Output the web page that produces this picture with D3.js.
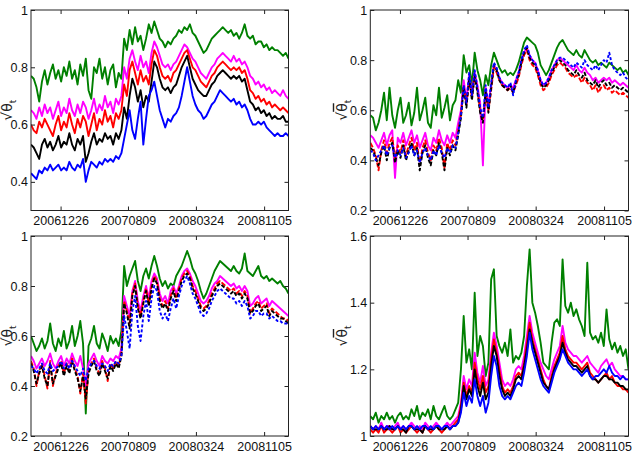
<!DOCTYPE html>
<html><head><meta charset="utf-8">
<script src="https://cdn.jsdelivr.net/npm/d3@7"></script>
<style>
body{margin:0;background:#fff;}
svg{display:block;font-family:"Liberation Sans",Arial,sans-serif;}
</style></head><body>
<svg id="chart" width="633" height="457"></svg>
<script>
const tickIdx = [10.8, 35.4, 60.2, 85.1];
const tickLabels = ["20061226","20070809","20080324","20081105"];
const seriesNames = ["green","magenta","red","black","blue"];
const seriesColors = ["#008000","#ff00ff","#ff0000","#000000","#0000ff"];

// Panel 1 (top-left)
const g1 = [0.77,0.76,0.73,0.68,0.75,0.79,0.74,0.78,0.81,0.76,
0.79,0.75,0.80,0.77,0.82,0.76,0.79,0.74,0.81,0.77,
0.83,0.72,0.69,0.80,0.78,0.83,0.76,0.80,0.74,0.79,
0.81,0.73,0.78,0.76,0.90,0.86,0.93,0.88,0.94,0.89,
0.91,0.86,0.90,0.95,0.92,0.96,0.93,0.90,0.89,0.87,
0.89,0.88,0.90,0.91,0.93,0.92,0.94,0.93,0.95,0.92,
0.91,0.89,0.87,0.85,0.86,0.88,0.90,0.91,0.92,0.93,
0.94,0.93,0.92,0.93,0.91,0.92,0.90,0.92,0.95,0.91,
0.90,0.91,0.88,0.89,0.89,0.87,0.88,0.86,0.87,0.86,
0.86,0.85,0.84,0.85,0.83];
const m1 = [0.65,0.64,0.62,0.66,0.63,0.67,0.64,0.66,0.62,0.65,
0.68,0.63,0.66,0.64,0.69,0.65,0.63,0.67,0.64,0.68,
0.66,0.62,0.65,0.69,0.64,0.67,0.65,0.70,0.66,0.68,
0.64,0.69,0.67,0.70,0.80,0.76,0.83,0.86,0.82,0.79,
0.84,0.80,0.82,0.78,0.85,0.89,0.87,0.84,0.81,0.80,
0.81,0.79,0.81,0.82,0.84,0.86,0.88,0.87,0.85,0.83,
0.82,0.80,0.78,0.77,0.76,0.78,0.80,0.81,0.83,0.84,
0.85,0.84,0.83,0.82,0.84,0.82,0.83,0.81,0.82,0.80,
0.77,0.76,0.74,0.75,0.73,0.74,0.72,0.73,0.71,0.72,
0.71,0.70,0.72,0.70,0.69];
const r1 = [0.60,0.58,0.57,0.61,0.59,0.62,0.60,0.58,0.56,0.60,
0.63,0.58,0.61,0.59,0.64,0.60,0.57,0.62,0.59,0.63,
0.61,0.56,0.60,0.64,0.58,0.62,0.60,0.65,0.61,0.63,
0.59,0.64,0.62,0.65,0.74,0.70,0.79,0.82,0.78,0.74,
0.79,0.75,0.77,0.74,0.81,0.86,0.84,0.80,0.77,0.76,
0.77,0.75,0.78,0.79,0.81,0.83,0.85,0.86,0.83,0.80,
0.79,0.77,0.75,0.74,0.73,0.75,0.77,0.78,0.80,0.81,
0.82,0.81,0.80,0.79,0.80,0.79,0.80,0.78,0.79,0.76,
0.72,0.71,0.69,0.70,0.68,0.69,0.67,0.68,0.66,0.67,
0.66,0.65,0.66,0.65,0.64];
const k1 = [0.53,0.52,0.50,0.48,0.53,0.55,0.52,0.54,0.51,0.53,
0.56,0.52,0.54,0.53,0.57,0.53,0.51,0.55,0.53,0.56,
0.47,0.50,0.54,0.57,0.53,0.55,0.54,0.57,0.55,0.56,
0.53,0.57,0.55,0.58,0.66,0.62,0.70,0.76,0.73,0.68,
0.72,0.66,0.70,0.68,0.75,0.82,0.80,0.76,0.73,0.72,
0.73,0.71,0.73,0.74,0.77,0.80,0.82,0.84,0.80,0.76,
0.74,0.72,0.71,0.70,0.70,0.72,0.74,0.75,0.77,0.78,
0.79,0.78,0.77,0.76,0.77,0.76,0.77,0.75,0.76,0.72,
0.68,0.67,0.65,0.66,0.64,0.65,0.63,0.64,0.62,0.63,
0.62,0.62,0.63,0.61,0.61];
const b1 = [0.43,0.42,0.41,0.44,0.43,0.45,0.44,0.46,0.44,0.45,
0.46,0.44,0.45,0.44,0.47,0.45,0.44,0.46,0.45,0.48,
0.40,0.44,0.47,0.46,0.45,0.47,0.46,0.48,0.47,0.48,
0.47,0.49,0.48,0.50,0.55,0.60,0.65,0.58,0.55,0.62,
0.68,0.53,0.62,0.70,0.72,0.75,0.70,0.65,0.62,0.59,
0.62,0.61,0.63,0.64,0.66,0.70,0.75,0.80,0.75,0.70,
0.67,0.65,0.64,0.62,0.63,0.65,0.67,0.68,0.70,0.72,
0.71,0.70,0.69,0.68,0.69,0.67,0.68,0.66,0.67,0.65,
0.62,0.60,0.60,0.61,0.60,0.61,0.59,0.58,0.57,0.56,
0.57,0.56,0.56,0.57,0.56];

// Panel 2 (top-right)
const g2 = [0.58,0.57,0.52,0.55,0.60,0.67,0.56,0.69,0.58,0.53,
0.60,0.65,0.55,0.58,0.63,0.54,0.59,0.69,0.56,0.60,
0.65,0.55,0.53,0.62,0.58,0.69,0.57,0.61,0.66,0.56,
0.62,0.64,0.72,0.67,0.82,0.75,0.78,0.70,0.83,0.76,
0.72,0.66,0.74,0.70,0.78,0.83,0.80,0.77,0.75,0.76,
0.74,0.75,0.74,0.76,0.79,0.83,0.87,0.89,0.88,0.87,
0.86,0.83,0.78,0.76,0.74,0.76,0.79,0.82,0.85,0.87,
0.88,0.86,0.84,0.83,0.82,0.84,0.82,0.81,0.84,0.82,
0.80,0.79,0.80,0.78,0.79,0.78,0.77,0.79,0.78,0.77,
0.76,0.77,0.75,0.76,0.74];
const m2 = [0.50,0.49,0.47,0.45,0.48,0.51,0.46,0.50,0.52,0.33,
0.49,0.47,0.51,0.46,0.49,0.52,0.47,0.50,0.45,0.48,
0.51,0.46,0.44,0.49,0.47,0.52,0.48,0.46,0.50,0.47,
0.51,0.49,0.55,0.60,0.72,0.64,0.74,0.67,0.75,0.70,
0.63,0.38,0.69,0.62,0.70,0.78,0.76,0.73,0.71,0.70,
0.69,0.70,0.69,0.72,0.75,0.80,0.83,0.85,0.82,0.80,
0.79,0.76,0.72,0.70,0.71,0.73,0.76,0.78,0.80,0.81,
0.80,0.79,0.78,0.77,0.76,0.78,0.76,0.75,0.77,0.75,
0.74,0.72,0.73,0.71,0.72,0.73,0.72,0.73,0.71,0.72,
0.71,0.70,0.71,0.70,0.69];
const r2 = [0.47,0.45,0.42,0.36,0.44,0.48,0.43,0.47,0.49,0.41,
0.46,0.43,0.48,0.42,0.46,0.49,0.44,0.47,0.38,0.45,
0.48,0.43,0.40,0.46,0.44,0.49,0.45,0.37,0.47,0.44,
0.48,0.46,0.52,0.58,0.70,0.62,0.72,0.65,0.74,0.68,
0.60,0.56,0.67,0.60,0.68,0.77,0.75,0.72,0.70,0.69,
0.68,0.69,0.67,0.70,0.73,0.78,0.82,0.84,0.80,0.78,
0.77,0.74,0.70,0.68,0.69,0.71,0.74,0.76,0.78,0.79,
0.78,0.77,0.75,0.74,0.73,0.74,0.73,0.71,0.73,0.71,
0.70,0.68,0.70,0.67,0.69,0.70,0.68,0.69,0.67,0.68,
0.67,0.66,0.67,0.66,0.65];
const k2 = [0.45,0.44,0.41,0.38,0.43,0.46,0.40,0.45,0.47,0.39,
0.44,0.41,0.46,0.40,0.44,0.47,0.42,0.45,0.36,0.43,
0.46,0.41,0.38,0.44,0.42,0.47,0.43,0.36,0.45,0.42,
0.46,0.44,0.50,0.57,0.69,0.61,0.73,0.64,0.74,0.67,
0.59,0.55,0.68,0.59,0.69,0.78,0.76,0.72,0.70,0.69,
0.68,0.70,0.67,0.71,0.74,0.79,0.83,0.85,0.81,0.79,
0.78,0.75,0.71,0.69,0.70,0.72,0.75,0.77,0.79,0.80,
0.79,0.78,0.76,0.75,0.74,0.76,0.74,0.73,0.75,0.72,
0.71,0.70,0.72,0.69,0.71,0.72,0.70,0.71,0.69,0.70,
0.69,0.68,0.69,0.68,0.67];
const b2 = [0.44,0.43,0.40,0.42,0.44,0.46,0.42,0.45,0.46,0.41,
0.44,0.42,0.45,0.41,0.43,0.46,0.42,0.44,0.39,0.43,
0.45,0.42,0.40,0.44,0.42,0.46,0.43,0.41,0.45,0.43,
0.46,0.45,0.51,0.58,0.70,0.63,0.75,0.66,0.76,0.69,
0.61,0.57,0.70,0.61,0.71,0.79,0.77,0.73,0.71,0.70,
0.69,0.71,0.66,0.72,0.75,0.80,0.84,0.86,0.82,0.80,
0.79,0.76,0.72,0.70,0.71,0.73,0.76,0.78,0.80,0.81,
0.81,0.80,0.79,0.78,0.77,0.79,0.78,0.77,0.80,0.78,
0.77,0.76,0.78,0.76,0.78,0.80,0.79,0.83,0.78,0.76,
0.75,0.74,0.75,0.73,0.72];

// Panel 3 (bottom-left)
const g3 = [0.60,0.57,0.54,0.56,0.59,0.55,0.58,0.65,0.57,0.54,
0.59,0.56,0.62,0.55,0.58,0.64,0.56,0.60,0.66,0.57,
0.29,0.56,0.59,0.64,0.57,0.55,0.61,0.58,0.54,0.60,
0.57,0.59,0.56,0.62,0.88,0.80,0.84,0.87,0.90,0.82,
0.78,0.84,0.87,0.83,0.88,0.92,0.88,0.83,0.80,0.82,
0.79,0.81,0.80,0.84,0.86,0.88,0.91,0.94,0.91,0.87,
0.85,0.82,0.78,0.75,0.77,0.80,0.83,0.86,0.88,0.90,
0.89,0.88,0.87,0.86,0.88,0.86,0.85,0.87,0.93,0.86,
0.85,0.84,0.86,0.88,0.84,0.83,0.84,0.82,0.83,0.82,
0.81,0.82,0.80,0.79,0.77];
const m3 = [0.52,0.50,0.47,0.49,0.51,0.48,0.50,0.53,0.49,0.47,
0.50,0.52,0.48,0.51,0.49,0.53,0.50,0.48,0.52,0.47,
0.40,0.49,0.51,0.53,0.50,0.48,0.52,0.50,0.49,0.51,
0.50,0.52,0.51,0.55,0.76,0.72,0.68,0.78,0.82,0.74,
0.70,0.76,0.80,0.75,0.82,0.85,0.83,0.77,0.74,0.76,
0.73,0.78,0.80,0.77,0.80,0.84,0.86,0.87,0.85,0.82,
0.80,0.77,0.74,0.73,0.74,0.76,0.79,0.81,0.82,0.84,
0.83,0.82,0.81,0.80,0.81,0.79,0.80,0.78,0.80,0.78,
0.72,0.73,0.75,0.76,0.73,0.74,0.75,0.72,0.74,0.73,
0.72,0.71,0.70,0.69,0.68];
const r3 = [0.50,0.47,0.40,0.46,0.49,0.44,0.39,0.50,0.40,0.45,
0.48,0.50,0.45,0.49,0.46,0.51,0.47,0.44,0.37,0.45,
0.33,0.46,0.49,0.51,0.47,0.45,0.50,0.47,0.42,0.49,
0.47,0.50,0.48,0.53,0.74,0.70,0.65,0.77,0.81,0.72,
0.68,0.74,0.79,0.73,0.80,0.84,0.82,0.75,0.72,0.74,
0.71,0.76,0.79,0.75,0.79,0.83,0.85,0.86,0.84,0.80,
0.78,0.75,0.72,0.71,0.72,0.74,0.77,0.79,0.81,0.82,
0.81,0.80,0.79,0.78,0.79,0.77,0.78,0.76,0.78,0.76,
0.69,0.71,0.73,0.74,0.71,0.72,0.73,0.69,0.71,0.70,
0.69,0.68,0.67,0.67,0.66];
const k3 = [0.49,0.46,0.41,0.45,0.48,0.43,0.40,0.49,0.41,0.44,
0.47,0.49,0.44,0.48,0.45,0.50,0.46,0.43,0.38,0.44,
0.35,0.45,0.48,0.50,0.46,0.44,0.49,0.46,0.43,0.48,
0.46,0.49,0.47,0.52,0.73,0.69,0.63,0.76,0.80,0.71,
0.67,0.73,0.78,0.72,0.79,0.83,0.81,0.74,0.71,0.73,
0.70,0.75,0.78,0.74,0.78,0.82,0.84,0.85,0.83,0.79,
0.77,0.74,0.71,0.70,0.71,0.73,0.76,0.78,0.80,0.81,
0.80,0.79,0.78,0.77,0.78,0.76,0.77,0.75,0.77,0.75,
0.69,0.70,0.72,0.73,0.70,0.71,0.72,0.68,0.70,0.69,
0.68,0.67,0.67,0.66,0.65];
const b3 = [0.48,0.47,0.45,0.47,0.49,0.46,0.45,0.49,0.46,0.47,
0.48,0.50,0.47,0.49,0.47,0.50,0.48,0.46,0.44,0.47,
0.42,0.47,0.49,0.50,0.48,0.47,0.49,0.48,0.46,0.49,
0.48,0.50,0.49,0.52,0.68,0.62,0.55,0.70,0.76,0.64,
0.58,0.68,0.74,0.66,0.75,0.80,0.78,0.70,0.67,0.69,
0.66,0.71,0.75,0.71,0.76,0.80,0.82,0.84,0.81,0.77,
0.75,0.72,0.69,0.68,0.69,0.71,0.74,0.76,0.78,0.79,
0.78,0.77,0.76,0.75,0.75,0.73,0.74,0.72,0.74,0.72,
0.67,0.68,0.70,0.70,0.68,0.69,0.69,0.67,0.68,0.67,
0.66,0.66,0.65,0.65,0.65];

// Panel 4 (bottom-right)
const g4 = [1.06,1.05,1.07,1.04,1.06,1.05,1.07,1.05,1.06,1.04,
1.06,1.07,1.05,1.06,1.05,1.08,1.06,1.09,1.05,1.07,
1.06,1.08,1.05,1.09,1.06,1.05,1.07,1.09,1.06,1.05,
1.06,1.08,1.10,1.20,1.36,1.22,1.26,1.20,1.43,1.24,
1.30,1.27,1.18,1.22,1.47,1.50,1.30,1.27,1.25,1.28,
1.24,1.32,1.22,1.24,1.23,1.25,1.30,1.45,1.56,1.40,
1.37,1.33,1.28,1.22,1.21,1.20,1.28,1.34,1.35,1.33,
1.53,1.39,1.37,1.40,1.36,1.38,1.35,1.33,1.30,1.52,
1.31,1.29,1.30,1.28,1.31,1.27,1.38,1.29,1.26,1.28,
1.25,1.27,1.24,1.26,1.20];
const m4 = [1.03,1.02,1.03,1.02,1.04,1.02,1.03,1.03,1.02,1.03,
1.04,1.02,1.03,1.02,1.03,1.04,1.03,1.02,1.03,1.02,
1.04,1.03,1.02,1.03,1.04,1.03,1.02,1.03,1.04,1.03,
1.04,1.05,1.06,1.10,1.18,1.14,1.17,1.15,1.25,1.19,
1.16,1.21,1.15,1.17,1.25,1.31,1.27,1.22,1.17,1.15,
1.16,1.15,1.17,1.20,1.21,1.20,1.24,1.30,1.36,1.31,
1.28,1.25,1.22,1.20,1.18,1.17,1.20,1.23,1.25,1.27,
1.33,1.28,1.26,1.25,1.24,1.24,1.23,1.22,1.23,1.24,
1.22,1.21,1.20,1.19,1.21,1.22,1.23,1.21,1.22,1.20,
1.19,1.18,1.18,1.17,1.17];
const r4 = [1.02,1.01,1.02,1.01,1.03,1.01,1.02,1.02,1.01,1.02,
1.03,1.01,1.02,1.01,1.02,1.03,1.02,1.01,1.02,1.01,
1.03,1.02,1.01,1.02,1.03,1.02,1.01,1.02,1.03,1.02,
1.03,1.04,1.05,1.09,1.16,1.12,1.15,1.13,1.22,1.17,
1.14,1.18,1.13,1.15,1.23,1.29,1.25,1.20,1.15,1.13,
1.14,1.13,1.15,1.18,1.19,1.18,1.22,1.28,1.34,1.29,
1.26,1.23,1.20,1.17,1.15,1.14,1.18,1.21,1.23,1.25,
1.30,1.26,1.24,1.23,1.22,1.22,1.21,1.20,1.21,1.22,
1.19,1.18,1.17,1.16,1.17,1.18,1.19,1.17,1.18,1.16,
1.15,1.15,1.14,1.14,1.13];
const k4 = [1.03,1.02,1.02,1.02,1.03,1.02,1.02,1.03,1.02,1.02,
1.03,1.02,1.02,1.01,1.03,1.03,1.02,1.02,1.02,1.01,
1.03,1.02,1.02,1.02,1.03,1.02,1.02,1.02,1.03,1.02,
1.03,1.03,1.04,1.08,1.15,1.11,1.14,1.12,1.20,1.15,
1.12,1.16,1.11,1.13,1.21,1.27,1.24,1.18,1.14,1.12,
1.13,1.12,1.14,1.17,1.18,1.17,1.21,1.26,1.32,1.28,
1.25,1.22,1.19,1.16,1.15,1.14,1.17,1.20,1.22,1.24,
1.28,1.25,1.23,1.22,1.21,1.21,1.20,1.19,1.20,1.21,
1.18,1.17,1.17,1.16,1.17,1.18,1.18,1.17,1.17,1.16,
1.16,1.15,1.15,1.14,1.14];
const b4 = [1.03,1.02,1.03,1.02,1.03,1.02,1.03,1.02,1.03,1.02,
1.03,1.02,1.03,1.02,1.03,1.03,1.02,1.03,1.02,1.03,
1.03,1.02,1.03,1.02,1.03,1.03,1.02,1.03,1.03,1.02,
1.03,1.03,1.04,1.07,1.13,1.09,1.12,1.10,1.17,1.12,
1.09,1.12,1.07,1.10,1.18,1.24,1.21,1.15,1.12,1.11,
1.12,1.11,1.13,1.15,1.16,1.15,1.19,1.24,1.31,1.26,
1.23,1.20,1.17,1.15,1.14,1.13,1.16,1.19,1.21,1.23,
1.26,1.24,1.22,1.21,1.20,1.20,1.19,1.18,1.19,1.20,
1.18,1.17,1.18,1.18,1.19,1.20,1.19,1.21,1.19,1.18,
1.18,1.17,1.18,1.17,1.17];

const yDomains = [[0.3,1],[0.2,1],[0.2,1],[1,1.6]];
const yTickVals = [[0.4,0.6,0.8,1],[0.2,0.4,0.6,0.8,1],[0.2,0.4,0.6,0.8,1],[1,1.2,1.4,1.6]];

const panels = [
  {series:[g1,m1,r1,k1,b1], left:31, top:10, right:288.5, bottom:210.5, dashed:false},
  {series:[g2,m2,r2,k2,b2], left:370.3, top:10, right:628.5, bottom:210.5, dashed:true},
  {series:[g3,m3,r3,k3,b3], left:31, top:236, right:288.5, bottom:436, dashed:true},
  {series:[g4,m4,r4,k4,b4], left:370.3, top:236, right:628.5, bottom:436, dashed:false}
];
const dashPatterns = [null, null, "5,2", "4,2", "3,2"];

const svg = d3.select("#chart");
const fmt = d => String(+d.toFixed(1));

panels.forEach((p, pi) => {
  const w = p.right - p.left, h = p.bottom - p.top;
  const N = p.series[0].length;
  const x = d3.scaleLinear().domain([0, N - 1]).range([0, w]);
  const y = d3.scaleLinear().domain(yDomains[pi]).range([h, 0]);
  const g = svg.append("g").attr("transform", `translate(${p.left},${p.top})`);
  const clipId = "clip" + pi;
  g.append("clipPath").attr("id", clipId).append("rect")
    .attr("x", 0).attr("y", 0).attr("width", w).attr("height", h);

  const line = d3.line().x((d, i) => x(i)).y(d => y(d));
  const lg = g.append("g").attr("clip-path", `url(#${clipId})`);
  p.series.forEach((s, si) => {
    const path = lg.append("path").datum(s)
      .attr("fill", "none")
      .attr("stroke", seriesColors[si])
      .attr("stroke-width", 1.9)
      .attr("stroke-linejoin", "round")
      .attr("d", line);
    if (p.dashed && dashPatterns[si]) path.attr("stroke-dasharray", dashPatterns[si]);
  });

  const styleAxis = sel => {
    sel.select(".domain").remove();
    sel.selectAll(".tick line").attr("stroke", "#222");
    sel.selectAll("text").attr("fill", "#111").style("font-size", "12.5px")
      .style("font-family", '"Liberation Sans", Arial, sans-serif');
  };

  g.append("g").attr("transform", `translate(0,${h})`)
    .call(d3.axisBottom(x).tickValues(tickIdx).tickFormat((d, i) => tickLabels[i])
      .tickSizeInner(-4).tickSizeOuter(0).tickPadding(6))
    .call(styleAxis);
  g.append("g")
    .call(d3.axisTop(x).tickValues(tickIdx).tickFormat("").tickSizeInner(-4).tickSizeOuter(0))
    .call(styleAxis);
  g.append("g")
    .call(d3.axisLeft(y).tickValues(yTickVals[pi]).tickFormat(fmt)
      .tickSizeInner(-4).tickSizeOuter(0).tickPadding(3))
    .call(styleAxis);
  g.append("g").attr("transform", `translate(${w},0)`)
    .call(d3.axisRight(y).tickValues(yTickVals[pi]).tickFormat("").tickSizeInner(-4).tickSizeOuter(0))
    .call(styleAxis);

  g.append("rect").attr("x", 0).attr("y", 0).attr("width", w).attr("height", h)
    .attr("fill", "none").attr("stroke", "#222").attr("stroke-width", 1);

  const labX = Math.max(-27.5, 7.5 - p.left);
  const lab = g.append("text")
    .attr("transform", `translate(${labX},${h / 2}) rotate(-90)`)
    .attr("text-anchor", "middle")
    .attr("dominant-baseline", "middle")
    .attr("fill", "#222")
    .style("font-size", "14px")
    .style("font-family", '"DejaVu Sans", "Liberation Sans", sans-serif');
  lab.append("tspan").text("√");
  lab.append("tspan").style("text-decoration", "overline").text("θ");
  lab.append("tspan").attr("baseline-shift", "sub").style("font-size", "9px").text("t");
});
</script>
</body></html>
